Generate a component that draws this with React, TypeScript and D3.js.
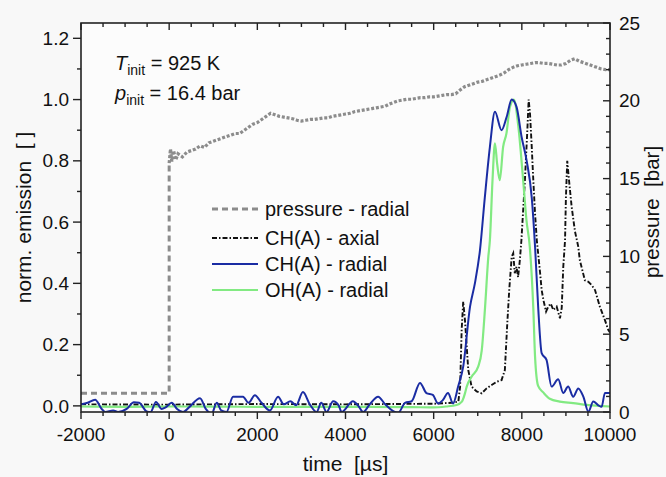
import React from "react";
import * as d3 from "d3";

// ---------- data ----------
// pressure - radial [bar] (right axis)
const pressurePre: [number, number][] = [
  [-2000, 1.2], [0, 1.2], [0, 16.0],
];
const pressureTime: number[] = [
  0, 30, 60, 100, 150, 200, 300, 400, 500, 600, 700, 800, 900, 1000, 1100, 1200, 1300, 1400, 1500, 1600,
  1700, 1800, 1900, 2000, 2100, 2200, 2300, 2400, 2500, 2600, 2700, 2800, 2900, 3000, 3100, 3200, 3300,
  3400, 3500, 3600, 3700, 3800, 3900, 4000, 4100, 4200, 4300, 4400, 4500, 4600, 4700, 4800, 4900, 5000,
  5100, 5200, 5300, 5400, 5500, 5600, 5700, 5800, 5900, 6000, 6100, 6200, 6300, 6400, 6500, 6600, 6700,
  6800, 6900, 7000, 7100, 7200, 7300, 7400, 7500, 7600, 7700, 7800, 7900, 8000, 8100, 8200, 8300, 8400,
  8500, 8600, 8700, 8800, 8900, 9000, 9100, 9200, 9300, 9400, 9500, 9600, 9700, 9800, 9900, 10000,
];
const pressureBar: number[] = [
  16.0, 16.9, 16.1, 16.8, 16.2, 16.6, 16.4, 16.7, 16.8, 16.9, 17.1, 17.0, 17.3, 17.4, 17.5, 17.6, 17.7, 17.8, 17.9, 17.9,
  18.1, 18.3, 18.5, 18.6, 18.8, 19.0, 19.2, 19.1, 19.0, 18.95, 18.9, 18.85, 18.75, 18.7, 18.75, 18.8, 18.8,
  18.85, 18.9, 18.9, 19.0, 19.05, 19.1, 19.15, 19.2, 19.3, 19.35, 19.4, 19.45, 19.5, 19.55, 19.6, 19.65, 19.8,
  19.9, 20.0, 20.05, 20.1, 20.1, 20.15, 20.2, 20.2, 20.25, 20.25, 20.3, 20.35, 20.4, 20.4, 20.45, 20.7, 20.9,
  21.0, 21.1, 21.2, 21.25, 21.35, 21.45, 21.55, 21.65, 21.8, 22.0, 22.15, 22.25, 22.3, 22.35, 22.4, 22.45, 22.45,
  22.4, 22.4, 22.35, 22.3, 22.3, 22.4, 22.6, 22.7, 22.55, 22.45, 22.35, 22.25, 22.15, 22.05, 22.0, 22.0,
];

// CH(A) - axial (normalized emission)
const chAxial: [number, number][] = [
  [-2000, 0.005], [0, 0.004], [2000, 0.006], [4000, 0.005], [5000, 0.006], [6000, 0.007], [6400, 0.01],
  [6560, 0.014], [6600, 0.063], [6635, 0.248], [6670, 0.34], [6710, 0.28], [6750, 0.193], [6785, 0.117],
  [6860, 0.063], [6975, 0.047], [7090, 0.041], [7200, 0.057], [7315, 0.068], [7430, 0.079], [7540, 0.084],
  [7615, 0.117], [7670, 0.27], [7715, 0.38], [7770, 0.487], [7805, 0.498], [7840, 0.433], [7880, 0.454],
  [7915, 0.42], [7955, 0.476], [7990, 0.54], [8070, 0.737], [8125, 0.9], [8155, 1.0], [8185, 0.955],
  [8225, 0.845], [8260, 0.737], [8300, 0.627], [8340, 0.54], [8415, 0.433], [8450, 0.378], [8490, 0.345],
  [8550, 0.308], [8600, 0.324], [8655, 0.334], [8715, 0.313], [8790, 0.324], [8865, 0.286], [8905, 0.32],
  [8940, 0.454], [8980, 0.54], [9000, 0.68], [9030, 0.8], [9070, 0.737], [9130, 0.65], [9205, 0.57],
  [9280, 0.52], [9315, 0.476], [9430, 0.41], [9510, 0.405], [9585, 0.394], [9660, 0.378], [9770, 0.324],
  [9885, 0.28], [9960, 0.248], [10000, 0.24],
];

// CH(A) - radial
const chRadial: [number, number][] = [
  [-2000, 0.005], [-1850, 0.01], [-1680, 0.02], [-1530, -0.01], [-1450, -0.02], [-1270, -0.015],
  [-1160, -0.02], [-965, -0.01], [-800, 0.012], [-680, 0.01], [-510, -0.018], [-420, -0.02], [-300, 0.013],
  [-170, -0.01], [-80, -0.005], [57, 0.01], [180, -0.01], [315, -0.02], [450, -0.005], [700, 0.025],
  [830, -0.01], [965, -0.025], [1080, 0.01], [1180, -0.015], [1300, -0.02], [1450, 0.03], [1550, 0.03],
  [1675, 0.03], [1800, 0.01], [1945, 0.035], [2095, 0.01], [2285, -0.015], [2470, 0.03], [2600, 0.005],
  [2750, 0.015], [2880, 0.002], [3035, 0.045], [3190, 0.005], [3345, -0.02], [3450, 0.01], [3570, -0.02],
  [3720, 0.015], [3850, 0.0], [3910, -0.02], [4170, 0.015], [4290, 0.0], [4400, -0.02], [4550, 0.005],
  [4740, 0.03], [4900, 0.005], [5120, -0.02], [5200, -0.022], [5350, 0.01], [5500, 0.015], [5690, 0.075],
  [5835, 0.042], [5980, 0.036], [6100, 0.008], [6210, 0.019], [6325, 0.042], [6440, 0.008], [6555, 0.063],
  [6670, 0.128], [6825, 0.324], [6935, 0.4], [7050, 0.508], [7160, 0.68], [7275, 0.845], [7390, 0.96],
  [7540, 0.9], [7655, 0.943], [7770, 1.0], [7880, 0.976], [7995, 0.878], [8110, 0.8], [8225, 0.68],
  [8300, 0.52], [8370, 0.324], [8450, 0.172], [8560, 0.15], [8675, 0.063], [8825, 0.087], [8940, 0.042],
  [9050, 0.063], [9165, 0.03], [9280, 0.057], [9395, 0.03], [9510, -0.019], [9620, 0.014], [9735, 0.002],
  [9810, -0.003], [9885, 0.042], [10000, 0.042],
];

// OH(A) - radial
const ohRadial: [number, number][] = [
  [-2000, -0.002], [-1000, -0.003], [0, -0.002], [2000, -0.003], [4000, -0.003], [5500, -0.004],
  [5985, -0.005], [6280, -0.002], [6520, 0.003], [6640, 0.014], [6710, 0.041], [6750, 0.063], [6860, 0.095],
  [7010, 0.128], [7090, 0.18], [7165, 0.32], [7240, 0.487], [7275, 0.54], [7335, 0.737], [7390, 0.857],
  [7440, 0.79], [7500, 0.737], [7575, 0.845], [7650, 0.889], [7730, 0.976], [7820, 1.0], [7915, 0.92],
  [8030, 0.737], [8105, 0.606], [8180, 0.52], [8260, 0.32], [8300, 0.16], [8370, 0.065], [8485, 0.044],
  [8635, 0.023], [8860, 0.014], [9165, 0.009], [9470, 0.003], [10000, -0.002],
];

const xTicks = [-2000, 0, 2000, 4000, 6000, 8000, 10000];
const yLeftTicks = [0.0, 0.2, 0.4, 0.6, 0.8, 1.0, 1.2];
const yRightTicks = [0, 5, 10, 15, 20, 25];

const legendItems = [
  { label: "pressure - radial", key: "p" },
  { label: "CH(A) - axial", key: "ax" },
  { label: "CH(A) - radial", key: "chr" },
  { label: "OH(A) - radial", key: "ohr" },
];

// ---------- layout ----------
const W = 666, H = 477;
const L = 81, R = 610, T = 23, B = 412;
const FONT = "'Liberation Sans', Arial, sans-serif";

const styles: Record<string, { stroke: string; width: number; dash?: string }> = {
  p: { stroke: "#8c8c8c", width: 3, dash: "6 4" },
  ax: { stroke: "#111111", width: 1.9, dash: "5 2 1.5 2" },
  chr: { stroke: "#1a2ca3", width: 2 },
  ohr: { stroke: "#82ea82", width: 2.2 },
};

export default function App() {
  const x = d3.scaleLinear().domain([-2000, 10000]).range([L, R]);
  const yL = d3.scaleLinear().domain([-0.02, 1.25]).range([B, T]);
  const yR = d3.scaleLinear().domain([0, 25]).range([B, T]);

  const lineL = d3.line<[number, number]>().x((d) => x(d[0])).y((d) => yL(d[1]));
  const smoothL = d3.line<[number, number]>().x((d) => x(d[0])).y((d) => yL(d[1])).curve(d3.curveMonotoneX);
  const lineR = d3.line<[number, number]>().x((d) => x(d[0])).y((d) => yR(d[1]));

  const pressurePost: [number, number][] = pressureTime.map((t, i) => [t, pressureBar[i]]);

  const xMinor = d3.range(-2000, 10001, 500);
  const yLMinor = d3.range(0, 1.21, 0.1);
  const yRMinor = d3.range(0, 25.01, 1);

  const legendY = [209, 238, 264, 290];

  return (
    <svg width={W} height={H} style={{ position: "absolute", left: 0, top: 0, fontFamily: FONT }}>
      <rect x={0} y={0} width={W} height={H} fill="#f8f8f8" />
      <rect x={L} y={T} width={R - L} height={B - T} fill="#fcfcfc" />
      <defs>
        <clipPath id="plot">
          <rect x={L} y={T} width={R - L} height={B - T} />
        </clipPath>
      </defs>

      <g clipPath="url(#plot)">
        <path d={lineR(pressurePre) || ""} fill="none" stroke={styles.p.stroke} strokeWidth={3} strokeDasharray="6 4" />
        <path d={lineR(pressurePost) || ""} fill="none" stroke={styles.p.stroke} strokeWidth={3.2} strokeDasharray="3 1.8" />
        <path d={lineL(chAxial) || ""} fill="none" stroke={styles.ax.stroke} strokeWidth={styles.ax.width} strokeDasharray={styles.ax.dash} />
        <path d={smoothL(ohRadial) || ""} fill="none" stroke={styles.ohr.stroke} strokeWidth={styles.ohr.width} />
        <path d={smoothL(chRadial) || ""} fill="none" stroke={styles.chr.stroke} strokeWidth={styles.chr.width} />
      </g>

      {/* frame */}
      <rect x={L} y={T} width={R - L} height={B - T} fill="none" stroke="#222" strokeWidth={1.6} />

      {/* x ticks bottom (outward) and top (inward) */}
      {xMinor.map((v) => {
        const major = xTicks.includes(v);
        const len = major ? 7 : 4;
        return (
          <g key={"xt" + v}>
            <line x1={x(v)} x2={x(v)} y1={B} y2={B + len} stroke="#222" strokeWidth={1.4} />
            <line x1={x(v)} x2={x(v)} y1={T} y2={T + len} stroke="#222" strokeWidth={1.4} />
          </g>
        );
      })}
      {xTicks.map((v) => (
        <text key={"xl" + v} x={x(v)} y={441} textAnchor="middle" fontSize={19} fill="#111">
          {v}
        </text>
      ))}

      {/* left y ticks (outward) */}
      {yLMinor.map((v) => {
        const major = Math.abs(Math.round(v * 10) % 2) === 0;
        const len = major ? 8 : 4;
        return <line key={"yl" + v} x1={L - len} x2={L} y1={yL(v)} y2={yL(v)} stroke="#222" strokeWidth={1.4} />;
      })}
      {yLeftTicks.map((v) => (
        <text key={"yll" + v} x={69} y={yL(v)} dy="0.35em" textAnchor="end" fontSize={19} fill="#111">
          {v.toFixed(1)}
        </text>
      ))}

      {/* right y ticks (inward) */}
      {yRMinor.map((v) => {
        const major = Math.round(v) % 5 === 0;
        const len = major ? 7 : 4;
        return <line key={"yr" + v} x1={R - len} x2={R} y1={yR(v)} y2={yR(v)} stroke="#222" strokeWidth={1.4} />;
      })}
      {yRightTicks.map((v) => (
        <text key={"yrl" + v} x={619} y={yR(v)} dy="0.35em" textAnchor="start" fontSize={19} fill="#111">
          {v}
        </text>
      ))}

      {/* axis titles */}
      <text x={(L + R) / 2} y={471} textAnchor="middle" fontSize={21} fill="#111" style={{ whiteSpace: "pre" }}>
        {"time  [µs]"}
      </text>
      <text transform={`translate(31, ${(T + B) / 2}) rotate(-90)`} textAnchor="middle" fontSize={21} fill="#111" style={{ whiteSpace: "pre" }}>
        {"norm. emission  [ ]"}
      </text>
      <text transform={`translate(659, 212) rotate(-90)`} textAnchor="middle" fontSize={20.5} fill="#111" style={{ whiteSpace: "pre" }}>
        {"pressure  [bar]"}
      </text>

      {/* annotation */}
      <text x={115} y={70} fontSize={20} fill="#111">
        <tspan fontStyle="italic">T</tspan>
        <tspan fontSize={14} dy={5}>init</tspan>
        <tspan dy={-5}> = 925 K</tspan>
      </text>
      <text x={115} y={100} fontSize={20} fill="#111">
        <tspan fontStyle="italic">p</tspan>
        <tspan fontSize={14} dy={5}>init</tspan>
        <tspan dy={-5}> = 16.4 bar</tspan>
      </text>

      {/* legend */}
      {legendItems.map((it, i) => {
        const s = styles[it.key];
        return (
          <g key={it.key}>
            <line x1={212} x2={258} y1={legendY[i]} y2={legendY[i]} stroke={s.stroke} strokeWidth={s.width} strokeDasharray={s.dash} />
            <text x={265} y={legendY[i]} dy="0.35em" fontSize={20} fill="#111">
              {it.label}
            </text>
          </g>
        );
      })}
    </svg>
  );
}
